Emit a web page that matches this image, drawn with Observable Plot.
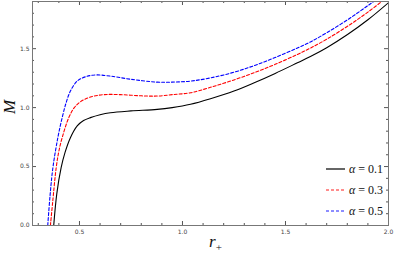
<!DOCTYPE html>
<html><head><meta charset="utf-8">
<script src="https://cdn.jsdelivr.net/npm/d3@7"></script>
<script src="https://cdn.jsdelivr.net/npm/@observablehq/plot@0.6"></script>
<style>
body{margin:0;background:#fff;}
#wrap{position:relative;width:397px;height:257px;}
.lab{position:absolute;font-family:"Liberation Serif","DejaVu Serif",serif;color:#111;white-space:nowrap;}
</style></head>
<body><div id="wrap"></div>
<script>
const rBlack = [0.375,0.39,0.411,0.43,0.456,0.489,0.52,0.553,0.6,0.65,0.75,0.877,0.95,1.039,1.136,1.25,1.354,1.45,1.558,1.621,1.7,1.801,1.9,2.0];
const mBlack = [0,0.27,0.49,0.62,0.745,0.845,0.89,0.915,0.94,0.957,0.972,0.985,1.0,1.028,1.075,1.14,1.215,1.29,1.38,1.433,1.508,1.62,1.745,1.89];
const rRed = [0.359,0.37,0.387,0.40,0.416,0.448,0.475,0.505,0.553,0.62,0.7,0.8,0.877,0.95,1.039,1.136,1.25,1.354,1.45,1.558,1.621,1.7,1.801,1.9,2.0];
const mRed = [0,0.20,0.49,0.63,0.745,0.915,1.0,1.05,1.09,1.11,1.11,1.1,1.098,1.11,1.126,1.172,1.235,1.30,1.367,1.451,1.505,1.58,1.69,1.81,1.945];
const rBlue = [0.346,0.357,0.371,0.395,0.416,0.435,0.456,0.489,0.53,0.58,0.65,0.75,0.877,0.95,1.039,1.136,1.25,1.354,1.45,1.558,1.621,1.7,1.801,1.9,2.0];
const mBlue = [0,0.25,0.49,0.745,0.915,1.04,1.14,1.225,1.262,1.277,1.267,1.24,1.216,1.216,1.225,1.252,1.30,1.36,1.425,1.506,1.557,1.635,1.745,1.865,1.99];
const alphas = ["0.1","0.3","0.5"];
const colors = ["#000000","#ff0000","#0000ff"];
const dashes = [null,"3,2","3,2"];
const xMajor = [0.5,1.0,1.5,2.0];
const yMajor = [0.0,0.5,1.0,1.5];
const xMinor = d3.range(0.3,2.0001,0.1).map(v=>+v.toFixed(2)).filter(v=>!xMajor.some(m=>Math.abs(m-v)<1e-6));
const yMinor = d3.range(0.1,1.9001,0.1).map(v=>+v.toFixed(2)).filter(v=>!yMajor.some(m=>Math.abs(m-v)<1e-6));

const W=397,H=257,mL=32,mR=9,mT=1,mB=32;
const iw=W-mL-mR, ih=H-mT-mB;
const series = [[rBlack,mBlack],[rRed,mRed],[rBlue,mBlue]].map(([r,m],i)=>r.map((x,j)=>({r:x,M:m[j],s:i})));
const tc="#555";
const plot = Plot.plot({
  width:W,height:H,marginLeft:mL,marginRight:mR,marginTop:mT,marginBottom:mB,
  x:{domain:[0.272,2.0]},
  y:{domain:[0,1.9]},
  style:{fontFamily:"DejaVu Sans, sans-serif",fontSize:"6px",color:"#444"},
  marks:[
    ...series.map((d,i)=>Plot.line(d,{x:"r",y:"M",stroke:colors[i],strokeWidth:1.1,strokeDasharray:dashes[i],curve:"catmull-rom",clip:true})),
    Plot.ruleX(xMajor,{stroke:tc,insetTop:ih-4}),
    Plot.ruleX(xMajor,{stroke:tc,insetBottom:ih-4}),
    Plot.ruleX(xMinor,{stroke:tc,insetTop:ih-2}),
    Plot.ruleX(xMinor,{stroke:tc,insetBottom:ih-2}),
    Plot.ruleY(yMajor,{stroke:tc,insetRight:iw-4}),
    Plot.ruleY(yMajor,{stroke:tc,insetLeft:iw-4}),
    Plot.ruleY(yMinor,{stroke:tc,insetRight:iw-2}),
    Plot.ruleY(yMinor,{stroke:tc,insetLeft:iw-2}),
    Plot.axisX(xMajor,{tickSize:0,tickPadding:4,tickFormat:d3.format(".1f"),label:null}),
    Plot.axisY(yMajor,{tickSize:0,tickPadding:3,tickFormat:d3.format(".1f"),label:null}),
    Plot.frame({stroke:"#777",strokeWidth:1})
  ]
});
const wrap=document.getElementById("wrap");
wrap.appendChild(plot);
function lab(html,css){const d=document.createElement("div");d.className="lab";d.innerHTML=html;Object.assign(d.style,css);wrap.appendChild(d);}
lab("<i>M</i>",{left:"3px",top:"97px",fontSize:"17px",lineHeight:"20px",transform:"rotate(-90deg)",transformOrigin:"center"});
lab("<i>r</i><sub style='font-size:11px;font-style:normal;vertical-align:-4px'>+</sub>",{left:"209px",top:"232px",fontSize:"17px",lineHeight:"20px"});
const ly=[169,190,211];
alphas.forEach((a,i)=>{
  const s=document.createElementNS("http://www.w3.org/2000/svg","svg");
  s.setAttribute("width","20");s.setAttribute("height","4");
  s.style.position="absolute";s.style.left="326px";s.style.top=(ly[i]-2)+"px";
  s.innerHTML=`<line x1="0" y1="2" x2="19" y2="2" stroke="${colors[i]}" stroke-width="${i?0.9:1.2}" ${dashes[i]?`stroke-dasharray="${dashes[i]}"`:""}/>`;
  wrap.appendChild(s);
  lab(`<i>α</i> = ${a}`,{left:"349px",top:(ly[i]-8)+"px",fontSize:"12px",lineHeight:"16px"});
});
</script></body></html>
